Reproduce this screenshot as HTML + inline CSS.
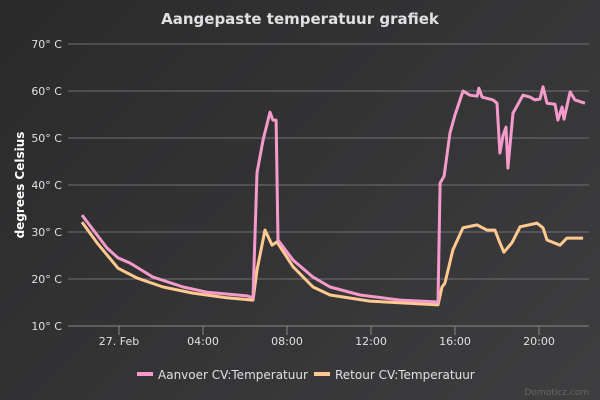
<!DOCTYPE html>
<html><head><meta charset="utf-8"><style>
html,body{margin:0;padding:0;width:600px;height:400px;overflow:hidden}
body{background:linear-gradient(135deg,#2a2a2b,#3e3e40);font-family:"Liberation Sans","DejaVu Sans",sans-serif}
svg text{font-family:"DejaVu Sans","Liberation Sans",sans-serif}
</style></head><body>
<svg id="chart" width="600" height="400" xmlns="http://www.w3.org/2000/svg">
<text x="300" y="24" text-anchor="middle" font-size="15" font-weight="bold" fill="#e0e0e3">Aangepaste temperatuur grafiek</text>
<text transform="translate(24,185) rotate(-90)" text-anchor="middle" font-size="12" font-weight="bold" fill="#fff">degrees Celsius</text>
<g id="grid"></g><g id="xaxis"></g><g id="series"></g>
<g>
<g><line x1="137" y1="374" x2="153" y2="374" stroke="#f59bcb" stroke-width="4"/><text x="158" y="379" font-size="12" fill="#e0e0e3">Aanvoer CV:Temperatuur</text></g>
<g><line x1="314" y1="374" x2="330" y2="374" stroke="#ffc990" stroke-width="4"/><text x="335" y="379" font-size="12" fill="#e0e0e3">Retour CV:Temperatuur</text></g>
</g>
<text x="589" y="395" text-anchor="end" font-size="9" fill="#666">Domoticz.com</text>
</svg>
<script>
const yTicks=[10,20,30,40,50,60,70];
const xTickHours=[0,4,8,12,16,20];
const xTickLabels=["27. Feb","04:00","08:00","12:00","16:00","20:00"];
const aanvoerHours=[-1.76,-0.57,-0.05,0.52,1.62,3.05,4.19,6.1,6.38,6.57,6.86,7.19,7.33,7.48,7.57,8.29,9.24,10.05,11.48,13.38,15.19,15.29,15.48,15.76,16.0,16.38,16.71,17.05,17.14,17.29,17.81,18.0,18.14,18.29,18.43,18.52,18.76,19.24,19.57,19.81,20.05,20.19,20.38,20.76,20.9,21.1,21.19,21.48,21.71,22.19];
const aanvoerValues=[33.6,26.6,24.5,23.4,20.4,18.3,17.2,16.4,16.0,42.6,49.6,55.5,53.8,53.8,28.3,24.0,20.4,18.3,16.6,15.5,15.1,40.4,41.9,51.1,54.9,60.0,59.1,58.9,60.6,58.7,58.1,57.4,46.8,50.6,52.3,43.6,55.3,59.1,58.7,58.1,58.3,60.9,57.4,57.2,53.8,56.6,54.0,59.8,58.1,57.4];
const retourHours=[-1.76,-1.05,-0.05,0.86,2.1,3.52,5.14,6.38,6.57,6.95,7.29,7.52,8.29,9.24,10.05,11.95,15.19,15.38,15.52,15.9,16.38,17.05,17.52,17.9,18.14,18.33,18.71,19.1,19.9,20.19,20.38,21.0,21.33,22.1];
const retourValues=[32.1,27.7,22.3,20.2,18.3,17.0,16.0,15.5,21.9,30.4,27.2,27.9,22.6,18.3,16.6,15.3,14.5,18.3,19.1,26.2,30.9,31.5,30.4,30.4,27.7,25.7,27.7,31.1,31.9,30.9,28.3,27.2,28.7,28.7];
const X0=68,X1=589;
function xs(h){return 119+h*21;}
function ys(v){return 326-(v-10)*4.7;}
const NS="http://www.w3.org/2000/svg";
const grid=document.getElementById('grid');
yTicks.forEach(v=>{
 const l=document.createElementNS(NS,'line');
 
 
 l.setAttribute('x1',X0);l.setAttribute('x2',X1);l.setAttribute('y1',ys(v));l.setAttribute('y2',ys(v));
 l.setAttribute('stroke',v===10?'#888':'#707073');l.setAttribute('stroke-width','1');
 grid.appendChild(l);
 const t=document.createElementNS(NS,'text');
 
 
 t.setAttribute('x',62);t.setAttribute('y',ys(v)+4);t.setAttribute('text-anchor','end');
 t.setAttribute('font-size','11');t.setAttribute('fill','#e0e0e3');
 t.textContent=v+'° C';grid.appendChild(t);
});
const xa=document.getElementById('xaxis');
xTickHours.forEach((h,i)=>{
 const l=document.createElementNS(NS,'line');
 
 
 l.setAttribute('x1',xs(h));l.setAttribute('x2',xs(h));l.setAttribute('y1',326);l.setAttribute('y2',335);
 l.setAttribute('stroke','#888');xa.appendChild(l);
 const t=document.createElementNS(NS,'text');
 
 
 t.setAttribute('x',xs(h));t.setAttribute('y',345);t.setAttribute('text-anchor','middle');
 t.setAttribute('font-size','11');t.setAttribute('fill','#e0e0e3');
 t.textContent=xTickLabels[i];xa.appendChild(t);
});
const sg=document.getElementById('series');
function draw(hs,vs,color,name){
 const p=document.createElementNS(NS,'path');
 
 
 p.setAttribute('d',hs.map((h,i)=>(i?'L':'M')+xs(h).toFixed(1)+' '+ys(vs[i]).toFixed(1)).join(' '));
 p.setAttribute('fill','none');p.setAttribute('stroke',color);p.setAttribute('stroke-width','3');
 p.setAttribute('stroke-linejoin','round');
 sg.appendChild(p);
}
draw(retourHours,retourValues,'#ffc990','retour-line');
draw(aanvoerHours,aanvoerValues,'#f59bcb','aanvoer-line');
</script>
</body></html>
